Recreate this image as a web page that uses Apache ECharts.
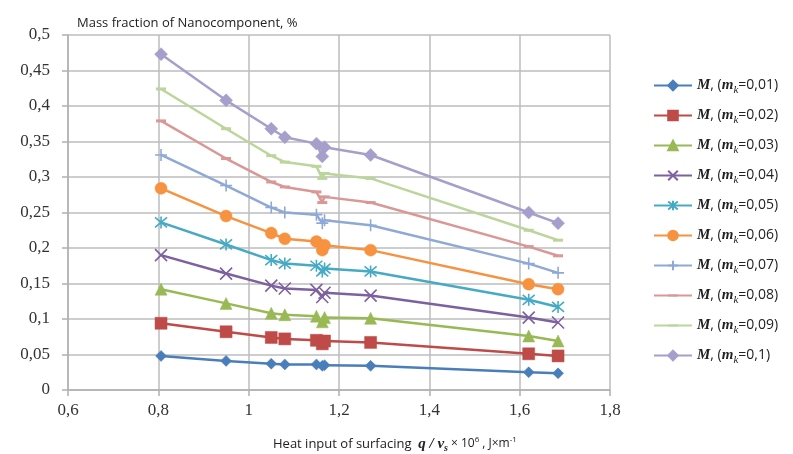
<!DOCTYPE html>
<html>
<head>
<meta charset="utf-8">
<script src="https://cdn.jsdelivr.net/npm/echarts@6/dist/echarts.min.js"></script>
<style>
html, body { margin: 0; padding: 0; background: #fff; }
#chart { width: 793px; height: 454px; }
</style>
</head>
<body>
<div id="chart"></div>
<script>
// x values of heat input (q/vs x 10^6)
var xValues = [0.806, 0.95, 1.05, 1.08, 1.15, 1.163, 1.168, 1.27, 1.62, 1.685];

var m001 = [0.048, 0.041, 0.037, 0.036, 0.036, 0.034, 0.035, 0.034, 0.025, 0.0235];
var m002 = [0.094, 0.082, 0.074, 0.072, 0.070, 0.065, 0.069, 0.067, 0.051, 0.048];
var m003 = [0.142, 0.122, 0.108, 0.106, 0.104, 0.096, 0.102, 0.101, 0.076, 0.069];
var m004 = [0.190, 0.164, 0.147, 0.143, 0.141, 0.131, 0.137, 0.133, 0.102, 0.095];
var m005 = [0.236, 0.205, 0.183, 0.178, 0.175, 0.167, 0.171, 0.167, 0.127, 0.117];
var m006 = [0.284, 0.245, 0.221, 0.213, 0.209, 0.197, 0.204, 0.197, 0.149, 0.142];
var m007 = [0.331, 0.288, 0.257, 0.250, 0.247, 0.235, 0.239, 0.232, 0.178, 0.165];
var m008 = [0.379, 0.326, 0.293, 0.286, 0.279, 0.264, 0.272, 0.264, 0.202, 0.189];
var m009 = [0.424, 0.368, 0.330, 0.321, 0.315, 0.298, 0.305, 0.298, 0.225, 0.211];
var m010 = [0.473, 0.408, 0.368, 0.356, 0.347, 0.329, 0.342, 0.331, 0.250, 0.235];

var mkLabels = ['0,01', '0,02', '0,03', '0,04', '0,05', '0,06', '0,07', '0,08', '0,09', '0,1'];

var allSeries = [m001, m002, m003, m004, m005, m006, m007, m008, m009, m010];
var colors = ['#4A7EBB', '#BE4B48', '#98B954', '#7D60A0', '#46AAC5',
              '#F69240', '#8FA9D6', '#D99795', '#BBD59A', '#A69FCB'];
var symbols = [
    'diamond', 'rect', 'triangle',
    'path://M0,0L10,10M10,0L0,10',
    'path://M0,0L10,10M10,0L0,10M5,-1L5,11',
    'circle',
    'path://M5,0L5,10M0,5L10,5',
    'line', 'line', 'diamond'
];
var sizes = [11, 12, 12, 12, 12, 12, 12, 10, 10, 13];

function pairs(ys) {
    var out = [];
    for (var i = 0; i < ys.length; i++) out.push([xValues[i], ys[i]]);
    return out;
}

var series = [];
for (var i = 0; i < allSeries.length; i++) {
    var isPath = symbols[i].indexOf('path://') === 0;
    var bw = 0.5;
    if (isPath) bw = 1.6;
    if (symbols[i] === 'line') bw = 3;
    series.push({
        name: 'mk' + i,
        type: 'line',
        data: pairs(allSeries[i]),
        symbol: symbols[i],
        symbolSize: sizes[i],
        showAllSymbol: true,
        color: colors[i],
        lineStyle: { width: 2.5, color: colors[i] },
        itemStyle: {
            color: colors[i],
            borderColor: colors[i],
            borderWidth: bw
        },
        z: 2 + i
    });
}

var legendNames = series.map(function (s) { return s.name; });

var chart = echarts.init(document.getElementById('chart'));
chart.setOption({
    backgroundColor: '#fff',
    animation: false,
    title: [{
        text: 'Mass fraction of Nanocomponent, %',
        left: 72,
        top: 12,
        textStyle: { fontFamily: 'Open Sans', fontSize: 13, fontWeight: 'normal', color: '#222' }
    }, {
        text: 'Heat input of surfacing  {qv|q / v}{s|s}{r|× 10}{sup|6}{r|, J×m}{sup|-1}',
        left: 268,
        top: 430,
        textStyle: {
            fontFamily: 'Open Sans', fontSize: 13, fontWeight: 'normal', color: '#222',
            rich: {
                qv: { fontFamily: 'Liberation Serif', fontStyle: 'italic', fontWeight: 'bold', fontSize: 15, color: '#222' },
                s: { fontFamily: 'Liberation Serif', fontStyle: 'italic', fontWeight: 'bold', fontSize: 10, color: '#222', padding: [8, 0, 0, 0] },
                r: { fontFamily: 'Open Sans', fontSize: 12, color: '#222', padding: [0, 0, 0, 3] },
                sup: { fontFamily: 'Open Sans', fontSize: 8, color: '#222', padding: [0, 0, 8, 0] }
            }
        }
    }],
    legend: {
        data: legendNames,
        orient: 'vertical',
        left: 648,
        top: 73,
        itemWidth: 38,
        itemHeight: 12,
        itemGap: 12,
        formatter: function (name) {
            var idx = legendNames.indexOf(name);
            return '{M|M}{t|, (}{m|m}{k|k}{t|=' + mkLabels[idx] + ')}';
        },
        textStyle: {
            rich: {
                M: { fontFamily: 'Liberation Serif', fontStyle: 'italic', fontWeight: 'bold', fontSize: 15, color: '#222' },
                m: { fontFamily: 'Liberation Serif', fontStyle: 'italic', fontWeight: 'bold', fontSize: 15, color: '#222' },
                k: { fontFamily: 'Liberation Serif', fontStyle: 'italic', fontSize: 11, color: '#222', padding: [10, 0, 0, 0] },
                t: { fontFamily: 'Open Sans', fontSize: 14, color: '#222' }
            }
        }
    },
    grid: { left: 68, right: 183, top: 35, bottom: 64 },
    xAxis: {
        type: 'value',
        min: 0.6,
        max: 1.8,
        interval: 0.2,
        axisLine: { show: true, lineStyle: { color: '#B0B0B0', width: 1.5 } },
        axisTick: { show: true, length: 6, lineStyle: { color: '#B0B0B0', width: 1.5 } },
        splitLine: { show: true, lineStyle: { color: '#BDBDBD', width: 1.5 } },
        axisLabel: {
            margin: 12,
            fontFamily: 'Liberation Serif',
            fontSize: 17,
            color: '#333',
            formatter: function (v) {
                var r = Math.round(v * 10) / 10;
                return String(r).replace('.', ',');
            }
        }
    },
    yAxis: {
        type: 'value',
        min: 0,
        max: 0.5,
        interval: 0.05,
        axisLine: { show: true, lineStyle: { color: '#B0B0B0', width: 1.5 } },
        axisTick: { show: true, length: 6, lineStyle: { color: '#B0B0B0', width: 1.5 } },
        splitLine: { show: true, lineStyle: { color: '#BDBDBD', width: 1.5 } },
        axisLabel: {
            margin: 18,
            fontFamily: 'Liberation Serif',
            fontSize: 17,
            color: '#333',
            formatter: function (v) {
                var r = Math.round(v * 100) / 100;
                return String(r).replace('.', ',');
            }
        }
    },
    series: series
});
</script>
</body>
</html>
